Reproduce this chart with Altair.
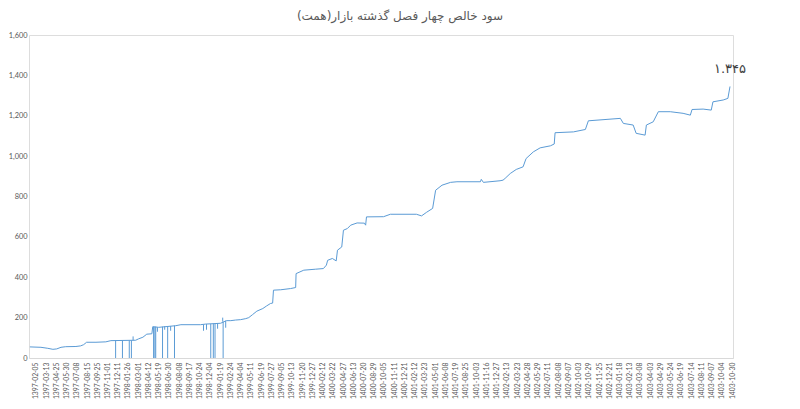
import altair as alt
import pandas as pd

TITLE = "سود خالص چهار فصل گذشته بازار(همت)"
LAST_LABEL = "۱.۳۴۵"

x_labels = [
    "1397-02-05", "1397-03-13", "1397-04-25", "1397-05-30", "1397-07-08", "1397-08-15",
    "1397-09-25", "1397-11-01", "1397-12-11", "1398-01-26", "1398-03-01", "1398-04-12",
    "1398-05-19", "1398-06-30", "1398-08-08", "1398-09-17", "1398-10-24", "1398-12-04",
    "1399-01-19", "1399-02-24", "1399-04-04", "1399-05-11", "1399-06-19", "1399-07-27",
    "1399-09-05", "1399-10-13", "1399-11-20", "1399-12-27", "1400-02-12", "1400-03-22",
    "1400-04-27", "1400-06-13", "1400-07-20", "1400-08-29", "1400-10-05", "1400-11-11",
    "1400-12-21", "1401-02-12", "1401-03-23", "1401-05-01", "1401-06-08", "1401-07-19",
    "1401-08-25", "1401-10-03", "1401-11-16", "1401-12-27", "1402-02-13", "1402-03-23",
    "1402-04-28", "1402-05-29", "1402-07-11", "1402-08-08", "1402-09-07", "1402-10-03",
    "1402-10-29", "1402-11-25", "1402-12-21", "1403-01-18", "1403-02-13", "1403-03-08",
    "1403-04-03", "1403-04-29", "1403-05-24", "1403-06-19", "1403-07-14", "1403-08-11",
    "1403-09-07", "1403-10-04", "1403-10-30",
]

# trading-day index and net profit (thousand billion toman)
day = [0, 26, 42, 54, 63, 73, 84, 108, 119, 126, 133, 155, 178, 190, 248, 255, 265, 274,
       286, 288, 302, 342, 354, 400, 412, 447, 461, 471, 482, 494, 506, 513, 522, 532,
       546, 555, 564, 569, 571, 588, 611, 623, 624, 642, 670, 688, 695, 698, 709, 718,
       721, 731, 735, 744, 752, 767, 784, 787, 789, 829, 845, 906, 918, 930, 944, 951,
       966, 986, 1001, 1056, 1058, 1063, 1102, 1109, 1114, 1126, 1140, 1156, 1163, 1180,
       1196, 1220, 1229, 1231, 1274, 1302, 1309, 1384, 1391, 1414, 1421, 1442, 1445, 1461,
       1473, 1501, 1531, 1548, 1552, 1578, 1597, 1601, 1625, 1636, 1641]
profit = [55, 53, 48, 43, 45, 53, 56, 57, 60, 66, 78, 78, 80, 86, 88, 95, 103, 118,
          120, 155, 152, 160, 165, 165, 168, 172, 185, 185, 188, 190, 195, 200, 215, 232,
          245, 258, 270, 272, 336, 338, 344, 349, 418, 435, 440, 443, 460, 484, 493, 481,
          534, 550, 633, 641, 658, 669, 668, 658, 699, 700, 712, 712, 704, 722, 741, 831,
          856, 870, 873, 873, 885, 870, 878, 881, 890, 914, 934, 947, 988, 1021,
          1041, 1051, 1060, 1116, 1120, 1132, 1175, 1187, 1162, 1154, 1113, 1104, 1154, 1170,
          1220, 1220, 1212, 1203, 1231, 1233, 1228, 1269, 1278, 1286, 1345]

# short-lived spikes in the daily series
spike_day = [201, 217, 233, 238, 242, 290, 293, 295, 299, 311, 316, 323, 330, 339,
             407, 414, 424, 430, 434, 440, 452, 453, 459]
spike_base = [86, 86, 87, 87, 88, 155, 155, 155, 152, 155, 157, 158, 158, 160,
              166, 168, 169, 170, 170, 171, 180, 180, 185]
spike_end = [0, 0, 0, 0, 107, 0, 0, 0, 130, 0, 140, 0, 135, 0,
             135, 140, 0, 0, 0, 145, 200, 0, 150]

y_ticks = [0, 200, 400, 600, 800, 1000, 1200, 1400, 1600]

label_days = [14 + 24 * i for i in range(len(x_labels))]
label_expr = "[" + ",".join("'%s'" % s for s in x_labels) + "][round((datum.value - 14) / 24)]"

line_df = pd.DataFrame({"day": day, "profit": profit})
spike_df = pd.DataFrame({"day": spike_day, "base": spike_base, "end": spike_end})
last_df = pd.DataFrame({"day": [day[-1]], "profit": [profit[-1]], "label": [LAST_LABEL]})

BLUE = "#5B9BD5"
GREY = "#595959"
NUM_FONT = "Lato"

x_scale = alt.Scale(domain=[-2, 1648], nice=False, zero=False)
x_axis = alt.Axis(
    title=None, values=label_days, labelExpr=label_expr, labelAngle=270,
    labelFontSize=6.8, labelColor=GREY, labelFont=NUM_FONT, labelPadding=4,
    ticks=False, grid=False, domainColor="#d9d9d9", labelOverlap=False,
    labelBound=False, labelFlush=False,
)
y_scale = alt.Scale(domain=[0, 1600], nice=False)
y_axis = alt.Axis(
    title=None, values=y_ticks, format=",.0f",
    labelFontSize=7.4, labelColor=GREY, labelFont=NUM_FONT, labelPadding=2,
    ticks=False, grid=False, domain=False,
)

line = alt.Chart(line_df).mark_line(color=BLUE, strokeWidth=1).encode(
    x=alt.X("day:Q", scale=x_scale, axis=x_axis),
    y=alt.Y("profit:Q", scale=y_scale, axis=y_axis),
)
spikes = alt.Chart(spike_df).mark_rule(color=BLUE, strokeWidth=1).encode(
    x=alt.X("day:Q", scale=x_scale, axis=x_axis),
    y=alt.Y("base:Q", scale=y_scale, axis=y_axis),
    y2="end:Q",
)
label = alt.Chart(last_df).mark_text(
    dy=-17, fontSize=13, color="#404040", font="DejaVu Sans"
).encode(
    x=alt.X("day:Q", scale=x_scale, axis=x_axis),
    y=alt.Y("profit:Q", scale=y_scale, axis=y_axis),
    text="label:N",
)

chart = (
    alt.layer(line, spikes, label)
    .properties(
        width=704, height=323,
        autosize=alt.AutoSizeParams(type="none"),
        padding={"left": 21, "top": 27, "right": 59, "bottom": 43},
        title=alt.TitleParams(
            text=TITLE, fontSize=12, fontWeight="normal", color=GREY,
            font="DejaVu Sans", anchor="middle", dx=19, offset=8,
        ),
    )
    .configure_view(strokeWidth=0)
    .configure_axisX(labelOverlap=False)
    .configure(background="white")
)

chart.save("out.html", embed_options={"renderer": "svg", "actions": False})
